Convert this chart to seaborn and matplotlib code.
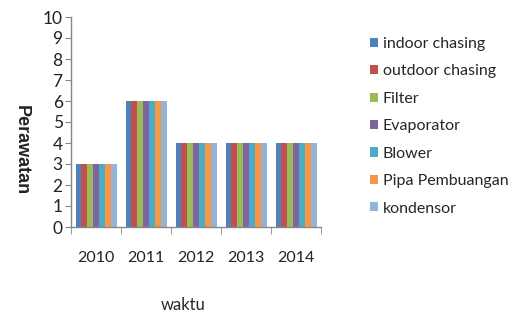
import matplotlib
matplotlib.use('Agg')
import matplotlib.pyplot as plt
import seaborn as sns
import pandas as pd
from matplotlib.ticker import FixedLocator

# data
years = ['2010', '2011', '2012', '2013', '2014']
components = ['indoor chasing', 'outdoor chasing', 'Filter', 'Evaporator',
              'Blower', 'Pipa Pembuangan', 'kondensor']
perawatan = [3, 6, 4, 4, 4]  # same count for every component per year

colors = ['#4F81BD', '#C0504D', '#9BBB59', '#8064A2', '#4BACC6', '#F79646', '#95B3D7']

rows = []
for i, y in enumerate(years):
    for c in components:
        rows.append({'waktu': y, 'komponen': c, 'Perawatan': perawatan[i]})
df = pd.DataFrame(rows)

sns.set_style('white')
plt.rcParams['font.family'] = ['Lato', 'DejaVu Sans']

fig = plt.figure(figsize=(5.13, 3.18), dpi=100)
ax = fig.add_axes([71 / 513, (318 - 227) / 318, 250 / 513, 210 / 318])

sns.barplot(data=df, x='waktu', y='Perawatan', hue='komponen', palette=colors,
            width=0.82, saturation=1, linewidth=0, ax=ax)

ax.set_ylim(0, 10)
ax.set_xlim(-0.5, 4.5)
ax.set_yticks(range(0, 11))
ax.tick_params(axis='y', labelsize=12.5, length=4, direction='out', color='#888888',
               left=True, pad=2, labelcolor='#222222')
ax.tick_params(axis='x', which='major', length=0, labelsize=11.5, pad=17, labelcolor='#222222')
ax.xaxis.set_minor_locator(FixedLocator([i - 0.5 for i in range(6)]))
ax.tick_params(axis='x', which='minor', length=5, direction='out', color='#888888', bottom=True)

for s in ['top', 'right']:
    ax.spines[s].set_visible(False)
for s in ['left', 'bottom']:
    ax.spines[s].set_color('#888888')
    ax.spines[s].set_linewidth(1)

ax.set_xlabel('waktu', fontsize=12, va='center')
ax.xaxis.set_label_coords(0.45, -0.37)
ax.set_ylabel('Perawatan', fontsize=13, rotation=270, va='center', ha='center',
              family=['Liberation Sans', 'DejaVu Sans'], fontweight='bold', color='#222222')
ax.yaxis.set_label_coords(-0.2, 0.365)

leg = ax.legend(loc='upper left', bbox_to_anchor=(1.17, 0.935), frameon=False,
                fontsize=11.5, handlelength=0.5, handleheight=0.5, handletextpad=0.3,
                labelspacing=0.84, borderaxespad=0)

plt.savefig('out.png', dpi=100)
